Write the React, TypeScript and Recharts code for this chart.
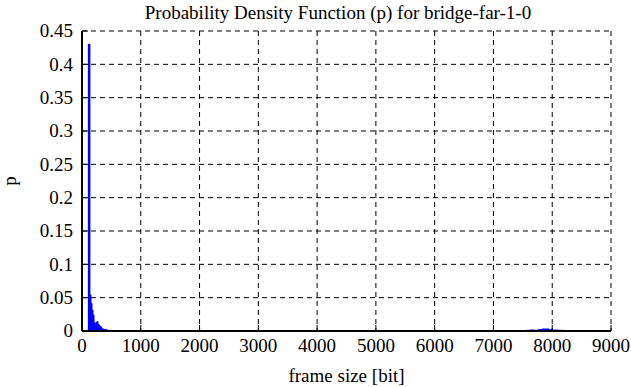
import React from 'react';
import { ComposedChart, Area, XAxis, YAxis, CartesianGrid } from 'recharts';

// Histogram bins (frame size in bits, bin start) and probabilities
const leftBins = [100, 135, 153, 170, 187, 204, 221, 238, 255, 272, 289, 306, 323, 340, 374, 425, 510];
const leftP = [0.43, 0.054, 0.0415, 0.0315, 0.024, 0.013, 0.01, 0.013, 0.014, 0.01, 0.008, 0.007, 0.005, 0.003, 0.002, 0.001, 0];
const gapBin = [1000];
const rightBins = [7470, 7550, 7620, 7700, 7760, 7830, 7950, 8000, 8100, 8200, 8300];
const rightP = [0.0005, 0.001, 0.0015, 0.001, 0.002, 0.003, 0.002, 0.0015, 0.001, 0.0005, 0];

const xTicks = [0, 1000, 2000, 3000, 4000, 5000, 6000, 7000, 8000, 9000];
const xTickLabels = ['0', '1000', '2000', '3000', '4000', '5000', '6000', '7000', '8000', '9000'];
const yTicks = [0, 0.05, 0.1, 0.15, 0.2, 0.25, 0.3, 0.35, 0.4, 0.45];
const yTickLabels = ['0', '0.05', '0.1', '0.15', '0.2', '0.25', '0.3', '0.35', '0.4', '0.45'];

const titleText = 'Probability Density Function (p) for bridge-far-1-0';
const xLabelText = 'frame size [bit]';
const yLabelText = 'p';

const data = [
  ...leftBins.map((x, i) => ({ x, p: leftP[i] as number | null })),
  ...gapBin.map((x) => ({ x, p: null as number | null })),
  ...rightBins.map((x, i) => ({ x, p: rightP[i] as number | null })),
];

const FONT = '"Liberation Serif", "Times New Roman", serif';
const FS = 19;
const textStyle = { fontFamily: FONT, fontSize: FS };

const xFmt = (v: number) => {
  const i = xTicks.indexOf(v);
  return i >= 0 ? xTickLabels[i] : String(v);
};
const yFmt = (v: number) => {
  const i = yTicks.findIndex((t) => Math.abs(t - v) < 1e-9);
  return i >= 0 ? yTickLabels[i] : String(v);
};

const EmptyTick = () => <g />;

const XTick = (props: any) => (
  <text x={props.x} y={props.y} dy="0.71em" textAnchor="middle" style={textStyle} fill="#000">
    {xFmt(props.payload.value)}
  </text>
);

const YTick = (props: any) => (
  <text x={props.x} y={props.y} dy="0.34em" textAnchor="end" style={textStyle} fill="#000">
    {yFmt(props.payload.value)}
  </text>
);

export default function App() {
  return (
    <div style={{ position: 'absolute', left: 0, top: 0, width: 631, height: 387, background: '#fff', fontFamily: FONT }}>
      <ComposedChart
        width={631}
        height={387}
        data={data}
        margin={{ top: 31, right: 20, bottom: 0, left: 0 }}
        style={{ fontFamily: FONT }}
      >
        <CartesianGrid stroke="#000" strokeDasharray="5 4" strokeWidth={1} />
        <XAxis
          dataKey="x"
          type="number"
          domain={[0, 9000]}
          ticks={xTicks}
          allowDataOverflow
          height={56}
          interval={0}
          tickSize={-6}
          tickMargin={14}
          axisLine={{ stroke: '#000', strokeWidth: 2 }}
          tickLine={{ stroke: '#000', strokeWidth: 1 }}
          tick={XTick}
          label={(props: any) => {
            const vb = props.viewBox || {};
            return (
              <g>
                <text x={vb.x + vb.width / 2} y={382} textAnchor="middle" style={textStyle} fill="#000">
                  {xLabelText}
                </text>
                <text x={338} y={19} textAnchor="middle" style={textStyle} fill="#000">
                  {titleText}
                </text>
              </g>
            );
          }}
        />
        <XAxis
          xAxisId="top"
          orientation="top"
          type="number"
          dataKey="x"
          domain={[0, 9000]}
          ticks={xTicks}
          allowDataOverflow
          height={0}
          interval={0}
          tickSize={-6}
          tick={EmptyTick}
          axisLine={{ stroke: '#000', strokeWidth: 2 }}
          tickLine={{ stroke: '#000', strokeWidth: 1 }}
        />
        <YAxis
          type="number"
          domain={[0, 0.45]}
          ticks={yTicks}
          allowDataOverflow
          width={82}
          interval={0}
          tickSize={-6}
          tickMargin={15}
          axisLine={{ stroke: '#000', strokeWidth: 2 }}
          tickLine={{ stroke: '#000', strokeWidth: 1 }}
          tick={YTick}
          label={(props: any) => {
            const vb = props.viewBox || {};
            const cy = vb.y + vb.height / 2;
            return (
              <text x={16} y={cy} textAnchor="middle" style={textStyle} fill="#000" transform={`rotate(-90 16 ${cy})`}>
                {yLabelText}
              </text>
            );
          }}
        />
        <YAxis
          yAxisId="right"
          orientation="right"
          type="number"
          domain={[0, 0.45]}
          ticks={yTicks}
          allowDataOverflow
          width={0}
          interval={0}
          tickSize={-6}
          tick={EmptyTick}
          axisLine={{ stroke: '#000', strokeWidth: 2 }}
          tickLine={{ stroke: '#000', strokeWidth: 1 }}
        />
        <Area
          dataKey="p"
          type="stepAfter"
          stroke="#0000ff"
          strokeWidth={1}
          fill="#0000ff"
          fillOpacity={1}
          dot={false}
          activeDot={false}
          isAnimationActive={false}
        />
      </ComposedChart>
    </div>
  );
}
